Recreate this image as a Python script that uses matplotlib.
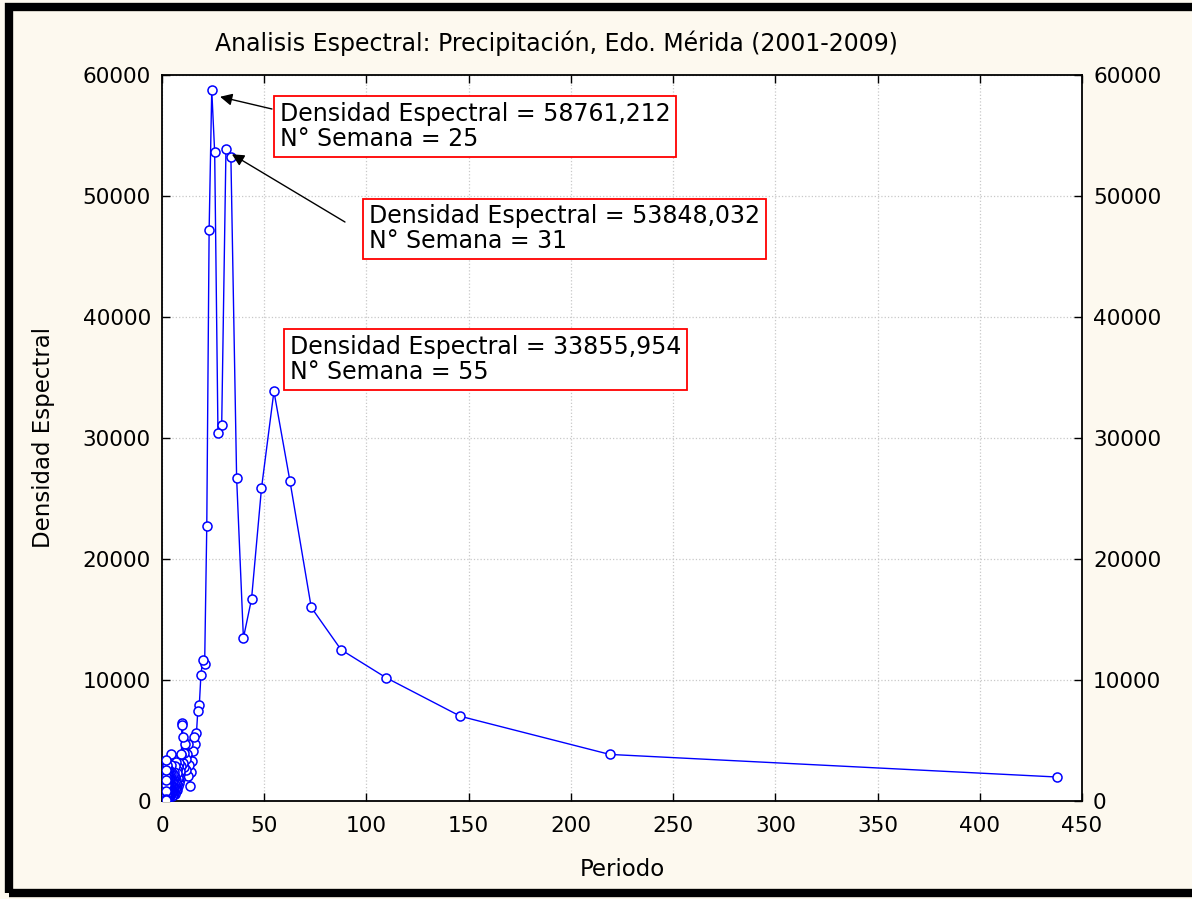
import numpy as np
import matplotlib
matplotlib.use('Agg')
import matplotlib.pyplot as plt
from matplotlib.patches import Rectangle

plt.rcParams['font.family'] = ['DejaVu Sans']

# Periodogram: 438 weekly observations, harmonics k = 1..219
n_weeks = 438
harmonics = np.arange(1, 220)
periodo = n_weeks / harmonics

densidad = [
    # k 1-20
    1980, 3850, 7000, 10200, 12500, 16000, 26450, 33856, 25850, 16700,
    13470, 26700, 53250, 53848, 31070, 30440, 53600, 58761, 47190, 22700,
    # k 21-60
    11300, 11650, 10440, 7930, 7460, 5600, 4750, 5250, 4100, 3300,
    2400, 1250, 3000, 2100, 4700, 3900, 2600, 3500, 4700, 2800,
    4000, 3100, 5290, 6450, 6300, 3800, 2900, 3880, 2200, 1800,
    2500, 3100, 1500, 2000, 2800, 1200, 1900, 2600, 1400, 900,
    # k 61-110
    2300, 1700, 1100, 3200, 1500, 800, 2000, 1300, 2900, 1000,
    600, 1800, 2400, 1200, 700, 1500, 2100, 900, 500, 1300,
    1900, 800, 1100, 2200, 600, 1400, 900, 1700, 500, 1000,
    1600, 700, 1200, 400, 2000, 900, 1300, 600, 1100, 2500,
    3000, 3860, 2200, 1000, 700, 1400, 900, 1600, 500, 1100,
    # k 111-219
    800, 1500, 2100, 600, 1200, 1800, 400, 900, 1400, 2600,
    1900, 700, 1100, 500, 1600, 2300, 800, 300, 1200, 1700,
    900, 2000, 600, 1300, 400, 1000, 1800, 700, 1500, 2400,
    1100, 500, 900, 1600, 300, 1200, 2100, 800, 600, 1400,
    1000, 1900, 400, 700, 1300, 2600, 900, 500, 1100, 1700,
    600, 1400, 2200, 800, 300, 1000, 1500, 700, 1900, 400,
    1200, 2800, 900, 500, 1600, 1100, 300, 2000, 700, 1300,
    2500, 900, 400, 1700, 1200, 600, 2200, 1000, 300, 1500,
    800, 1900, 2700, 500, 1100, 1400, 700, 3000, 1600, 400,
    1000, 2300, 600, 1800, 1200, 300, 2000, 900, 1500, 700,
    1100, 2600, 3390, 500, 1300, 800, 200, 1700, 100,
]

titulo = 'Analisis Espectral: Precipitación, Edo. Mérida (2001-2009)'
# (text, text top-left, arrow tail, arrow head)
notas = [
    ('Densidad Espectral = 58761,212\nN° Semana = 25', (57.7, 57750), (53.8, 57190), (28.4, 58200)),
    ('Densidad Espectral = 53848,032\nN° Semana = 31', (101.3, 49300), (89.5, 47850), (34.2, 53450)),
    ('Densidad Espectral = 33855,954\nN° Semana = 55', (62.6, 38500), None, None),
]

W, H = 1192, 899
fig = plt.figure(figsize=(W / 100, H / 100), dpi=100)
fig.patch.set_facecolor('#fdf9ef')

# thick black frame
fig.patches.append(Rectangle((9 / W, 1 - 893 / H), 1.2, (893 - 7) / H,
                             transform=fig.transFigure, fill=False,
                             ec='black', lw=6, zorder=0))

ax = fig.add_axes([162 / W, 1 - 801 / H, (1082 - 162) / W, (801 - 75) / H])
ax.set_facecolor('white')

ax.plot(periodo, densidad, color='#0000ff', lw=1.0, marker='o', ms=6.5,
        mfc='white', mec='#0000ff', mew=1.1, zorder=3)

ax.set_xlim(0, 450)
ax.set_ylim(0, 60000)
ax.set_xticks(np.arange(0, 451, 50))
ax.set_yticks(np.arange(0, 60001, 10000))
ax.grid(True, color='#c8c8c8', ls=':', lw=0.9)
ax.tick_params(direction='in', length=6, width=1, top=True, right=True,
               labelright=True, labelsize=15.6, pad=8)
ax.tick_params(axis='x', pad=11)
for s in ax.spines.values():
    s.set_linewidth(1.3)

ax.set_xlabel('Periodo', fontsize=16.5, labelpad=16)
ax.set_ylabel('Densidad Espectral', fontsize=16.5, labelpad=20)
fig.text(556 / W, 1 - 43 / H, titulo, fontsize=17, ha='center', va='center')

for texto, pos, cola, punta in notas:
    ax.text(pos[0], pos[1], texto, fontsize=17, ha='left', va='top',
            linespacing=1.05, zorder=4,
            bbox=dict(boxstyle='square,pad=0.25', fc='white', ec='red', lw=1.3))
    if punta is not None:
        ax.annotate('', xy=punta, xytext=cola,
                    arrowprops=dict(arrowstyle='-|>', color='black', lw=1.0,
                                    mutation_scale=18, shrinkA=0, shrinkB=0),
                    zorder=4)

fig.savefig('out.png', dpi=100, facecolor=fig.get_facecolor())
